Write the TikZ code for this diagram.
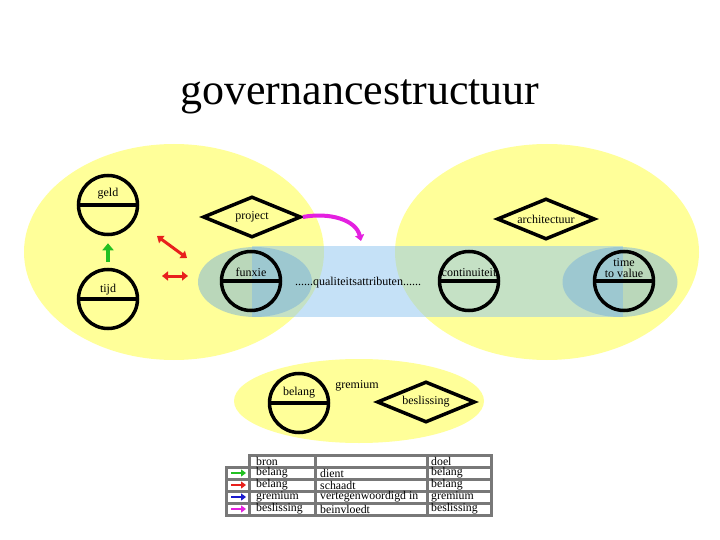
\documentclass[tikz,border=0pt]{standalone}
\usepackage{fontspec}
\setmainfont{Liberation Serif}
\usetikzlibrary{shapes.geometric,arrows.meta,calc}
\definecolor{yelc}{RGB}{255,255,153}
\definecolor{bandc}{RGB}{141,197,241}
\definecolor{ellc}{RGB}{118,176,220}
\definecolor{grn}{RGB}{34,192,34}
\definecolor{rd}{RGB}{232,32,28}
\definecolor{blu}{RGB}{26,26,204}
\definecolor{mag}{RGB}{228,32,224}
\definecolor{grid}{RGB}{120,120,120}
\begin{document}
\begin{tikzpicture}[x=1pt,y=-1pt,
  yellip/.style={ellipse,fill=yelc,draw=none,inner sep=0pt},
  bellip/.style={ellipse,fill=ellc,fill opacity=0.5,draw=none,inner sep=0pt},
  ercircle/.style={circle,draw=black,line width=3.5pt,minimum size=59pt,inner sep=0pt},
  dia/.style={diamond,draw=black,line width=3.5pt,minimum width=98pt,minimum height=41pt,inner sep=0pt,aspect=2.2,font=\fontsize{12}{12}\selectfont},
  lbl/.style={inner sep=0pt,font=\fontsize{12}{12}\selectfont},
  cell/.style={inner sep=0pt,anchor=west,font=\fontsize{11.8}{11.8}\selectfont},
  grn arrow/.style={draw=grn,line width=4pt,-{Triangle[length=7pt,width=11pt]}},
  red arrow/.style={draw=rd,line width=3pt,{Triangle[length=6pt,width=9pt]}-{Triangle[length=6pt,width=9pt]}},
  mag arrow/.style={draw=mag,line width=4pt,-{Triangle[length=6pt,width=9pt]}},
  key arrow/.style={line width=2.5pt,-{Triangle[length=5pt,width=7pt]}},
  gridline/.style={draw=grid,line width=3pt}
]
\useasboundingbox[fill=white] (0,0) rectangle (720,540);

% title
\node[inner sep=0pt,font=\fontsize{44}{44}\selectfont] (title) at (360,97) {governancestructuur};

% background regions
\node[yellip,minimum width=300pt,minimum height=216pt] (leftell) at (174,252) {};
\node[yellip,minimum width=304pt,minimum height=216pt] (rightell) at (547,252) {};
\node[yellip,minimum width=250pt,minimum height=84pt] (bottomell) at (359,401) {};
\fill[bandc,fill opacity=0.5] (252,246) rectangle (623,317);
\node[bellip,minimum width=114pt,minimum height=70pt] (leftblue) at (255,282) {};
\node[bellip,minimum width=115pt,minimum height=70pt] (rightblue) at (620,282) {};

% circles
\foreach \n/\x/\y in {geld/108/205, tijd/108/299, funxie/251/281, continuiteit/469/281, ttv/624/281, belang/299/403}{
  \node[ercircle] (\n) at (\x,\y) {};
  \draw[line width=3.5pt] (\n.west) -- (\n.east);
}
\node[lbl] at ([yshift=11pt]geld.center) {geld};
\node[lbl] at ([yshift=9pt]tijd.center) {tijd};
\node[lbl] at ([yshift=9pt]funxie.center) {funxie};
\node[lbl] at ([yshift=8pt]continuiteit.center) {continuiteit};
\node[lbl,align=center] at ([yshift=13pt]ttv.center) {time\\[-1pt]to value};
\node[lbl] at ([yshift=10pt]belang.center) {belang};

% diamonds
\node[dia] (project) at (252,217) {project};
\node[dia] (architectuur) at (546,219) {architectuur};
\node[dia] (beslissing) at (426,402) {beslissing};

% free texts
\node[lbl] (qa) at (358,283) {......qualiteitsattributen......};
\node[lbl] (gremium) at (357,386) {gremium};

% connectors
\draw[grn arrow] ([yshift=6pt]tijd.north) -- ([yshift=-7pt]geld.south);
\coordinate (ra1) at (157,236);
\coordinate (ra2) at (187,258);
\coordinate (rb1) at (162,276);
\coordinate (rb2) at (188,276);
\draw[red arrow] (ra1) -- (ra2);
\draw[red arrow] (rb1) -- (rb2);
\coordinate (magend) at (361,241);
\draw[mag arrow] (project.east) .. controls (330,212) and (356,220) .. (magend);

% legend table
\fill[white] (249,455) rectangle (491,515);
\fill[white] (226,467) rectangle (249,515);
\draw[gridline] (249,455) rectangle (491,515);
\draw[gridline] (226,467) rectangle (249,515);
\foreach \yy in {467,479,491,503}{ \draw[gridline] (226,\yy) -- (491,\yy); }
\foreach \xx in {315,427}{ \draw[gridline] (\xx,455) -- (\xx,515); }

\node[cell] (t01) at (256,461) {bron};
\node[cell] (t03) at (431,461) {doel};
\node[cell] (t11) at (256,473) {belang};
\node[cell] (t12) at (320,473) {dient};
\node[cell] (t13) at (431,473) {belang};
\node[cell] (t21) at (256,485) {belang};
\node[cell] (t22) at (320,485) {schaadt};
\node[cell] (t23) at (431,485) {belang};
\node[cell] (t31) at (256,497) {gremium};
\node[cell] (t32) at (320,497) {vertegenwoordigd in};
\node[cell] (t33) at (431,497) {gremium};
\node[cell] (t41) at (256,509) {beslissing};
\node[cell] (t42) at (320,509) {beinvloedt};
\node[cell] (t43) at (431,509) {beslissing};

\foreach \yy/\cc [count=\i] in {473/grn,485/rd,497/blu,509/mag}{
  \coordinate (ka\i) at (231,\yy);
  \coordinate (kb\i) at (246,\yy);
  \draw[key arrow,draw=\cc,fill=\cc] (ka\i) -- (kb\i);
}
\end{tikzpicture}
\end{document}
